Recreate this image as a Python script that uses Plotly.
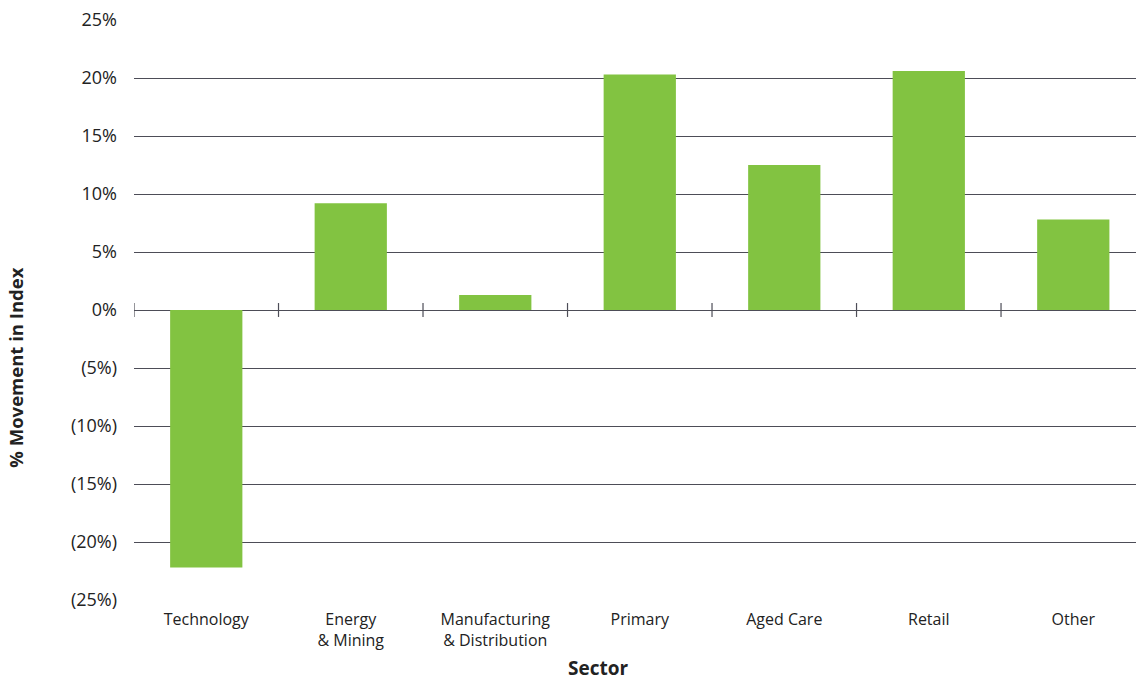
import plotly.graph_objects as go

# Sector index movement, in percent
sectors = ["Technology", "Energy<br>& Mining", "Manufacturing<br>& Distribution",
           "Primary", "Aged Care", "Retail", "Other"]
movement = [-22.2, 9.2, 1.3, 20.3, 12.5, 20.6, 7.8]

y_ticks = [25, 20, 15, 10, 5, 0, -5, -10, -15, -20, -25]
y_tick_labels = ["25%", "20%", "15%", "10%", "5%", "0%",
                 "(5%)", "(10%)", "(15%)", "(20%)", "(25%)"]

x_title = "Sector"
y_title = "% Movement in Index"

grid_color = "#4d4d57"
text_color = "#222222"
font_family = "Open Sans"

fig = go.Figure(
    go.Bar(
        x=list(range(len(sectors))),
        y=movement,
        marker=dict(color="#82c341", line=dict(width=0)),
        width=0.5,
    )
)

# short separator ticks crossing the zero line between categories
for i in range(len(sectors)):
    fig.add_shape(
        type="line", xref="x", yref="y",
        x0=i - 0.5, x1=i - 0.5, y0=-0.6, y1=0.6,
        line=dict(color=grid_color, width=1.2),
        layer="above",
    )

# axis titles placed as free annotations
fig.add_annotation(
    text=f"<b>{x_title}</b>", xref="paper", yref="paper",
    x=0.463, y=-0.117, xanchor="center", yanchor="middle",
    showarrow=False, font=dict(size=19, color=text_color),
    borderpad=0,
)
fig.add_annotation(
    text=f"<b>{y_title}</b>", xref="paper", yref="paper",
    x=-0.119, y=0.4, xanchor="center", yanchor="middle", textangle=-90,
    showarrow=False, font=dict(size=18.5, color=text_color),
)

fig.update_layout(
    width=1136, height=680,
    margin=dict(l=134, r=0, t=20, b=80),
    plot_bgcolor="white", paper_bgcolor="white",
    font=dict(family=font_family, size=16, color=text_color),
    showlegend=False,
)

# the last category runs slightly past the right edge of the canvas
fig.update_xaxes(
    range=[-0.5, 6.434],
    tickvals=list(range(len(sectors))),
    ticktext=sectors,
    showgrid=False, zeroline=False, showline=False,
    ticks="",
    ticklabelstandoff=8,
    tickfont=dict(size=16, color=text_color),
    automargin=False,
)

fig.update_yaxes(
    range=[-25, 25],
    tickvals=y_ticks,
    ticktext=y_tick_labels,
    showgrid=True, gridcolor=grid_color, gridwidth=1,
    zeroline=True, zerolinecolor=grid_color, zerolinewidth=1,
    showline=False, ticks="",
    ticklabelstandoff=16,
    tickfont=dict(size=18, color=text_color),
    automargin=False,
)

fig.write_html("out.html")
